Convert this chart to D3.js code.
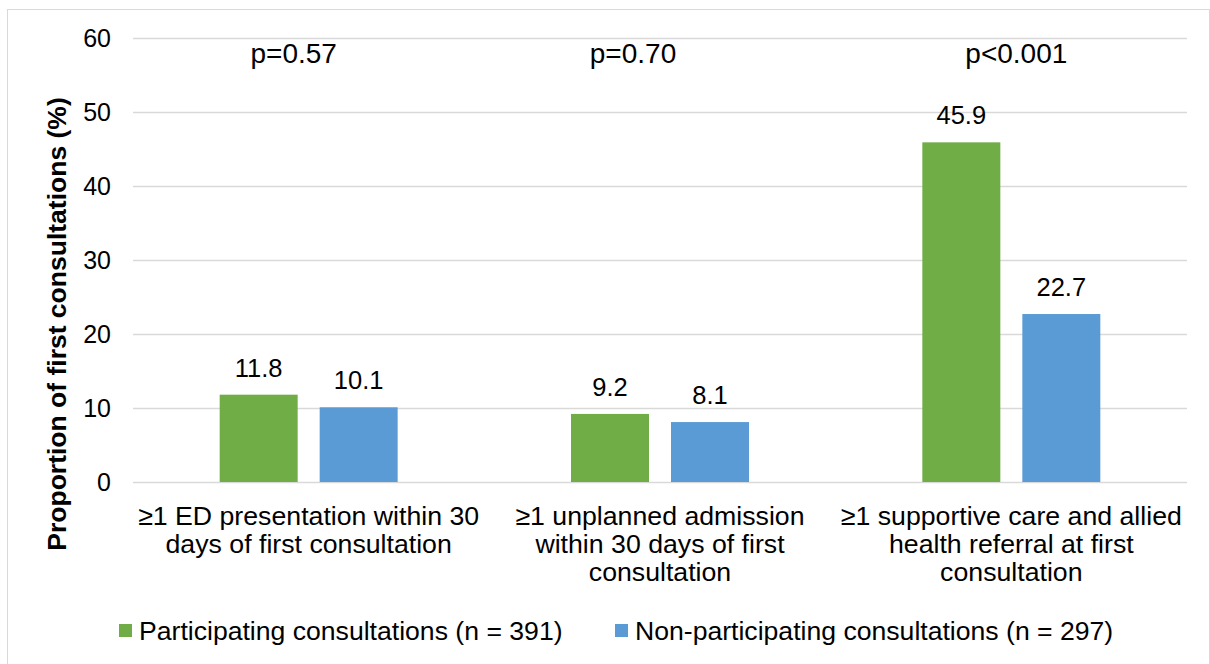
<!DOCTYPE html>
<html>
<head>
<meta charset="utf-8">
<script src="https://cdn.jsdelivr.net/npm/d3@7/dist/d3.min.js"></script>
<style>
  html, body { margin: 0; padding: 0; background: #fff; }
  svg { display: block; font-family: "Liberation Sans", Arial, sans-serif; }
</style>
</head>
<body>
<svg id="chart" width="1210" height="664"></svg>
<script>
// Outcome categories (each label split into its display lines)
const categories = [
  ["≥1 ED presentation within 30", "days of first consultation"],
  ["≥1 unplanned admission", "within 30 days of first", "consultation"],
  ["≥1 supportive care and allied", "health referral at first", "consultation"]
];
const seriesNames = ["Participating consultations (n = 391)", "Non-participating consultations (n = 297)"];
const participating = [11.8, 9.2, 45.9];
const nonParticipating = [10.1, 8.1, 22.7];
const pValues = ["p=0.57", "p=0.70", "p<0.001"];
const yTicks = [0, 10, 20, 30, 40, 50, 60];
const colors = ["#70ad47", "#5b9bd5"];

const svg = d3.select("#chart");
const W = 1210, H = 664;
const plot = { left: 133, right: 1187, top: 38, bottom: 482 };

// outer frame
svg.append("rect")
  .attr("x", 7.5).attr("y", 9.5)
  .attr("width", W - 8).attr("height", H - 9)
  .attr("fill", "#fff").attr("stroke", "#d9d9d9").attr("stroke-width", 1);

const catIdx = categories.map((c, i) => i);
const x0 = d3.scaleBand().domain(catIdx).range([plot.left, plot.right]).padding(0);
const y = d3.scaleLinear().domain([0, 60]).range([plot.bottom, plot.top]);
const groupWidth = 178;
const x1 = d3.scaleBand().domain([0, 1])
  .range([x0.bandwidth() / 2 - groupWidth / 2, x0.bandwidth() / 2 + groupWidth / 2])
  .paddingInner(0.22).paddingOuter(0);

// gridlines
svg.append("g")
  .selectAll("line").data(yTicks).join("line")
  .attr("x1", plot.left).attr("x2", plot.right)
  .attr("y1", d => Math.round(y(d)) + 0.5).attr("y2", d => Math.round(y(d)) + 0.5)
  .attr("stroke", "#d9d9d9").attr("stroke-width", 1.5);

// y axis tick labels
const yAxis = d3.axisLeft(y).tickValues(yTicks).tickSize(0).tickPadding(0);
const gy = svg.append("g").attr("transform", `translate(111,0)`).call(yAxis);
gy.select(".domain").remove();
gy.selectAll("text")
  .attr("font-family", "'Liberation Sans', Arial, sans-serif")
  .attr("font-size", 25).attr("fill", "#000").attr("dy", "0.35em");

// y axis title
svg.append("text")
  .attr("transform", `translate(66,324) rotate(-90)`)
  .attr("text-anchor", "middle")
  .attr("font-size", 26.5).attr("font-weight", "bold").attr("fill", "#000")
  .text("Proportion of first consultations (%)");

// bars
const rows = catIdx.map(i => [participating[i], nonParticipating[i]]);
const groups = svg.append("g").selectAll("g").data(rows).join("g")
  .attr("transform", (d, i) => `translate(${x0(i)},0)`);

groups.selectAll("rect").data(d => d.map((v, s) => ({ v, s }))).join("rect")
  .attr("x", d => x1(d.s))
  .attr("width", x1.bandwidth())
  .attr("y", d => y(d.v))
  .attr("height", d => y(0) - y(d.v))
  .attr("fill", d => colors[d.s]);

// value labels
groups.selectAll("text.val").data(d => d.map((v, s) => ({ v, s }))).join("text")
  .attr("class", "val")
  .attr("x", d => x1(d.s) + x1.bandwidth() / 2)
  .attr("y", d => y(d.v) - 18)
  .attr("text-anchor", "middle")
  .attr("font-size", 25.5).attr("fill", "#000")
  .text(d => d.v.toFixed(1));

// category labels
const catG = svg.append("g").selectAll("text").data(categories).join("text")
  .attr("text-anchor", "middle")
  .attr("font-size", 26.7).attr("fill", "#000");
catG.each(function (lines, i) {
  const t = d3.select(this);
  lines.forEach((ln, k) => {
    t.append("tspan")
      .attr("x", x0(i) + x0.bandwidth() / 2)
      .attr("y", 525 + k * 28)
      .text(ln);
  });
});

// significance annotations above each group
const pOffsets = [-15, -27, 5];
svg.append("g").selectAll("text").data(pValues).join("text")
  .attr("x", (d, i) => x0(i) + x0.bandwidth() / 2 + pOffsets[i])
  .attr("y", 63)
  .attr("text-anchor", "middle")
  .attr("font-size", 28).attr("fill", "#000")
  .text(d => d);

// legend
const legendX = [119, 615];
const leg = svg.append("g").selectAll("g").data(seriesNames).join("g")
  .attr("transform", (d, i) => `translate(${legendX[i]},624)`);
leg.append("rect").attr("width", 13).attr("height", 13).attr("fill", (d, i) => colors[i]);
leg.append("text").attr("x", 20).attr("y", 16)
  .attr("font-size", 26.6).attr("fill", "#000")
  .text(d => d);
</script>
</body>
</html>
